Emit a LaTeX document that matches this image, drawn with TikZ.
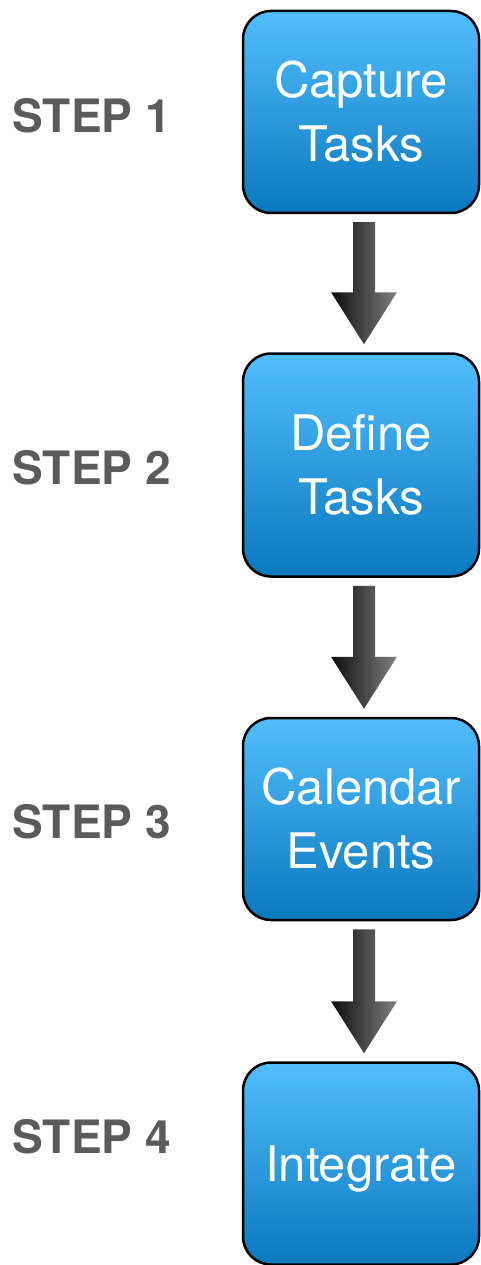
\documentclass[tikz,border=0pt]{standalone}
\usepackage{fontspec}
\setmainfont{TeX Gyre Heros}
\usetikzlibrary{positioning,calc}

\definecolor{boxtop}{HTML}{52BEFD}
\definecolor{boxbottom}{HTML}{0A78BE}
\definecolor{steplabel}{HTML}{5B5B5B}

% block arrow from the bottom of one box to the top of the next
\newcommand{\flowarrow}[2]{%
  \shade[left color=black!95, right color=black!50]
    let \p1=(#1.south), \p2=(#2.north) in
    (\x1-8pt,\y1-8pt) -- (\x1+14pt,\y1-8pt) -- (\x1+14pt,\y2+60pt)
    -- (\x1+36pt,\y2+60pt) -- (\x1+3pt,\y2+8pt) -- (\x1-30pt,\y2+60pt)
    -- (\x1-8pt,\y2+60pt) -- cycle;
}

\begin{document}
\begin{tikzpicture}[x=1pt, y=-1pt, thick,
    taskbox/.style={rectangle, rounded corners=28pt, draw=black,
      line width=2.5pt, top color=boxtop, bottom color=boxbottom,
      minimum width=236pt, minimum height=202pt, text=white,
      align=center, font=\fontsize{49}{64}\selectfont},
    steptext/.style={anchor=west, inner sep=0pt, text=steplabel,
      font=\fontsize{46}{54}\selectfont\bfseries}]

  \useasboundingbox (0,0) rectangle (480,1265);

  % ---- the four steps ----
  \node[taskbox] (capture) at (361,112) {Capture\\Tasks};
  \node[taskbox, minimum height=223pt, below=138pt of capture] (define) {Define\\Tasks};
  \node[taskbox, below=139pt of define] (calendar) {Calendar\\Events};
  \node[taskbox, below=140pt of calendar, text depth=0pt] (integrate) {Integrate};

  % ---- labels on the left ----
  \node[steptext] (stepone)   at (12,116)  {STEP 1};
  \node[steptext] (steptwo)   at (12,468)  {STEP 2};
  \node[steptext] (stepthree) at (12,822)  {STEP 3};
  \node[steptext] (stepfour)  at (12,1137) {STEP 4};

  % ---- arrows between the boxes ----
  \flowarrow{capture}{define}
  \flowarrow{define}{calendar}
  \flowarrow{calendar}{integrate}

\end{tikzpicture}
\end{document}
